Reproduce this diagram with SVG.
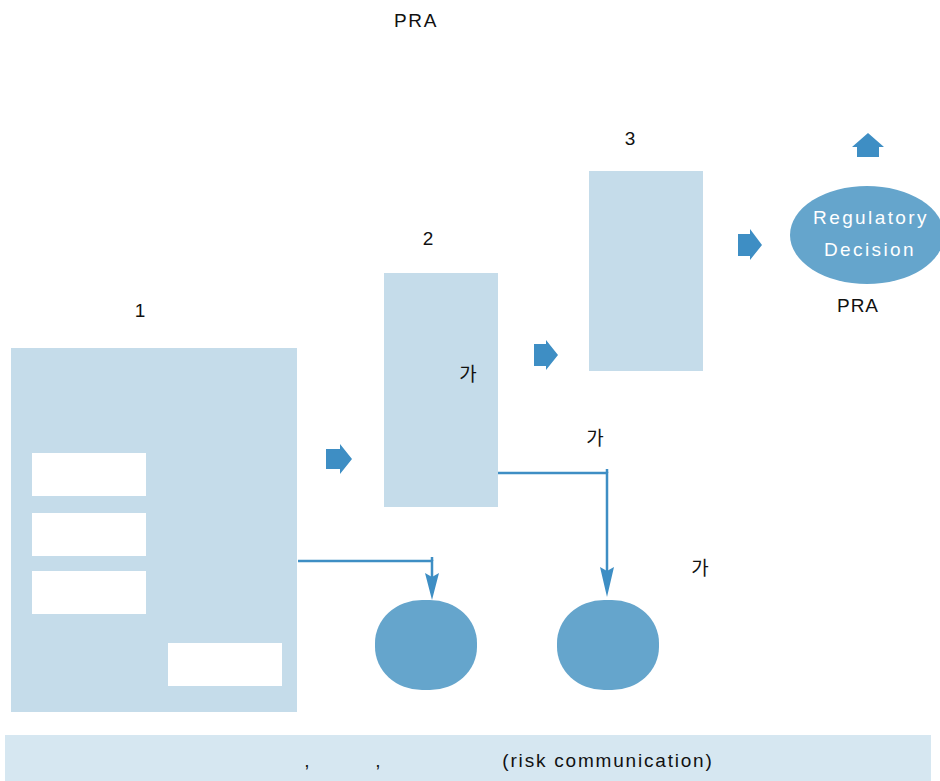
<svg xmlns="http://www.w3.org/2000/svg" width="940" height="781" viewBox="0 0 940 781">
<style>
.box{fill:#c5dcea}
.wbox{fill:#ffffff}
.node{fill:#65a5cc}
.fat{fill:#3e8ec4}
.t{font-family:"Liberation Sans",Arial,"Noto Sans CJK KR",sans-serif;font-size:19px;fill:#111;text-anchor:middle}
.k{font-family:"Noto Sans CJK KR","Liberation Sans",sans-serif;font-size:19px;fill:#111;text-anchor:middle}
.w{font-family:"Liberation Sans",Arial,sans-serif;font-size:19px;fill:#fff;text-anchor:middle;letter-spacing:2.4px}
.ln{fill:none;stroke:#3e8ec4;stroke-width:2.5}
</style>
<rect x="0" y="0" width="940" height="781" fill="#fff"/>
<text class="t" x="416" y="27" style="letter-spacing:1.6px">PRA</text>

<g id="bar">
<rect x="5" y="735" width="926" height="46" fill="#d6e7f1"/>
<text class="t" x="307" y="767">,</text>
<text class="t" x="378" y="767">,</text>
<text class="t" x="608" y="767" style="letter-spacing:1.8px">(risk communication)</text>
</g>

<g id="stage1">
<text class="t" x="140" y="317">1</text>
<rect class="box" x="11" y="348" width="286" height="364"/>
<rect class="wbox" x="32" y="453" width="114" height="43"/>
<rect class="wbox" x="32" y="513" width="114" height="43"/>
<rect class="wbox" x="32" y="571" width="114" height="43"/>
<rect class="wbox" x="168" y="643" width="114" height="43"/>
</g>

<g id="stage2">
<text class="t" x="428" y="245">2</text>
<rect class="box" x="384" y="273" width="114" height="234"/>
<text class="k" x="468" y="381">가</text>
</g>

<g id="stage3">
<text class="t" x="630" y="145">3</text>
<rect class="box" x="589" y="171" width="114" height="200"/>
</g>

<g id="decision">
<ellipse class="node" cx="867" cy="235" rx="77" ry="49"/>
<text class="w" x="871" y="224">Regulatory</text>
<text class="w" x="870" y="256">Decision</text>
<text class="t" x="858" y="312" style="letter-spacing:1px">PRA</text>
</g>

<g id="node-a">
<rect class="node" x="375" y="600" width="102" height="90" rx="47" ry="43"/>
</g>
<g id="node-b">
<rect class="node" x="557" y="600" width="102" height="90" rx="47" ry="43"/>
</g>

<text class="k" x="595" y="445">가</text>
<text class="k" x="700" y="575">가</text>

<g id="connectors">
<path class="fat" d="M326,449 L340,449 L340,444 L352,459 L340,474 L340,469 L326,469 Z"/>
<path class="fat" d="M534,344 L546,344 L546,340 L558,355 L546,370 L546,366 L534,366 Z"/>
<path class="fat" d="M738,234 L750,234 L750,229 L762,245 L750,260 L750,256 L738,256 Z"/>
<path class="fat" d="M852,147 L868,133 L884,147 L879,147 L879,157 L857,157 L857,147 Z"/>
<path class="ln" d="M298,561 L432,561 L432,580"/>
<line class="ln" x1="432" y1="557" x2="432" y2="561"/>
<path d="M425,573 L432,577 L439,573 L432,600 Z" fill="#3e8ec4"/>
<path class="ln" d="M498,473 L607,473 L607,575"/>
<line class="ln" x1="607" y1="469" x2="607" y2="473"/>
<path d="M600,567 L607,571 L614,567 L607,597 Z" fill="#3e8ec4"/>
</g>
</svg>
